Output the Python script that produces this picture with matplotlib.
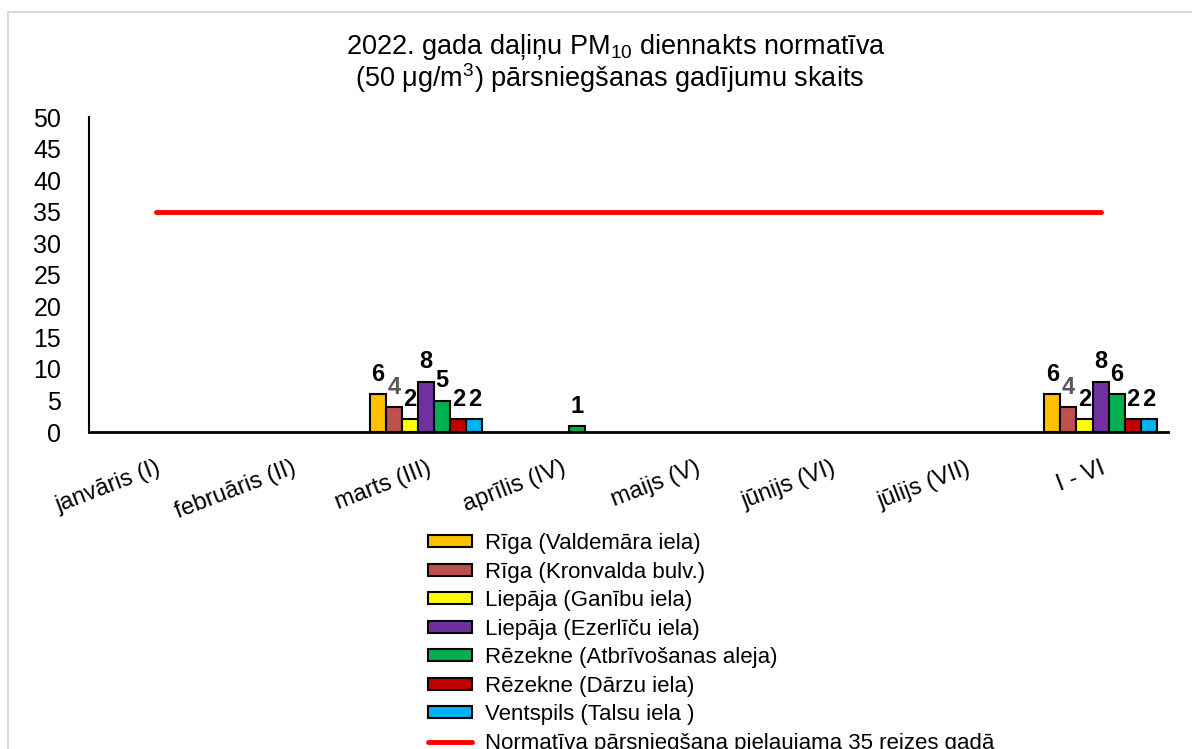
import matplotlib.pyplot as plt
import numpy as np
from matplotlib.lines import Line2D
from matplotlib.patches import Patch

plt.rcParams['font.family'] = ['Liberation Sans', 'DejaVu Sans']
plt.rcParams['mathtext.fontset'] = 'custom'
plt.rcParams['mathtext.rm'] = 'Liberation Sans'
plt.rcParams['mathtext.it'] = 'Liberation Sans'

# Dati
menesi = ['janvāris (I)', 'februāris (II)', 'marts (III)', 'aprīlis (IV)',
          'maijs (V)', 'jūnijs (VI)', 'jūlijs (VII)', 'I - VI']
stacijas = ['Rīga (Valdemāra iela)', 'Rīga (Kronvalda bulv.)', 'Liepāja (Ganību iela)',
            'Liepāja (Ezerlīču iela)', 'Rēzekne (Atbrīvošanas aleja)',
            'Rēzekne (Dārzu iela)', 'Ventspils (Talsu iela )']
riga_valdemara = [0, 0, 6, 0, 0, 0, 0, 6]
riga_kronvalda = [0, 0, 4, 0, 0, 0, 0, 4]
liepaja_ganibu = [0, 0, 2, 0, 0, 0, 0, 2]
liepaja_ezerlicu = [0, 0, 8, 0, 0, 0, 0, 8]
rezekne_atbrivosanas = [0, 0, 5, 1, 0, 0, 0, 6]
rezekne_darzu = [0, 0, 2, 0, 0, 0, 0, 2]
ventspils_talsu = [0, 0, 2, 0, 0, 0, 0, 2]
normativs = [35] * len(menesi)
normativs_nosaukums = 'Normatīva pārsniegšana pieļaujama 35 reizes gadā'

serijas = [riga_valdemara, riga_kronvalda, liepaja_ganibu, liepaja_ezerlicu,
           rezekne_atbrivosanas, rezekne_darzu, ventspils_talsu]
krasas = ['#FFC000', '#C0504D', '#FFFF00', '#7030A0', '#00B050', '#C00000', '#00B0F0']
etiketes_krasas = ['black', '#595959', 'black', 'black', 'black', 'black', 'black']

fig = plt.figure(figsize=(11.92, 7.49), dpi=100)
ax = fig.add_axes([89/1192, 1 - 432/749, (1168 - 89)/1192, (432 - 117)/749])

x = np.arange(len(menesi))
w = 0.119
handles = []
for i, (vals, c) in enumerate(zip(serijas, krasas)):
    pos = x + (i - 3) * w
    lw = [1.5 if v > 0 else 0 for v in vals]
    ax.bar(pos, vals, width=w, color=c, edgecolor='black', linewidth=lw)
    handles.append(Patch(facecolor=c, edgecolor='black', linewidth=1.5))
    for p, v in zip(pos, vals):
        if v > 0:
            ax.text(p, v + 1.3, str(v), ha='center', va='bottom', fontsize=17,
                    fontweight='bold', color=etiketes_krasas[i])

ln, = ax.plot(x, normativs, color='#FF0000', linewidth=3.5, solid_capstyle='round')

ax.set_xlim(-0.5, len(menesi) - 0.5)
ax.set_ylim(0, 50)
ax.set_yticks(range(0, 51, 5))
ax.tick_params(axis='y', length=0, pad=20, labelsize=18)
ax.tick_params(axis='x', length=0, pad=18, labelsize=17)
ax.set_xticks(x)
ax.set_xticklabels(menesi, rotation=21, ha='right', rotation_mode='anchor')
for s in ['top', 'right']:
    ax.spines[s].set_visible(False)
ax.spines['left'].set_linewidth(1.5)
ax.spines['bottom'].set_linewidth(2)

fig.text(616/1192, 1 - 47/749, r'2022. gada daļiņu PM$_{10}$ diennakts normatīva',
         ha='center', va='center', fontsize=19.5)
fig.text(610/1192, 1 - 78/749, r'(50 $\mu$g/m$^3$) pārsniegšanas gadījumu skaits',
         ha='center', va='center', fontsize=19.5)

handles.append(ln)
fig.legend(handles=handles, labels=stacijas + [normativs_nosaukums],
           loc='upper left', bbox_to_anchor=(428/1192, 1 - 533/749),
           frameon=False, fontsize=16, handlelength=2.0, handleheight=0.45,
           handletextpad=0.55, labelspacing=0.34, borderpad=0, borderaxespad=0)

# rāmis
fig.add_artist(Line2D([8/1192, 8/1192], [0, 1 - 12/749], color='#d9d9d9', linewidth=1.5,
                      transform=fig.transFigure))
fig.add_artist(Line2D([8/1192, 1], [1 - 12/749, 1 - 12/749], color='#d9d9d9', linewidth=1.5,
                      transform=fig.transFigure))

fig.savefig('out.png', dpi=100)
